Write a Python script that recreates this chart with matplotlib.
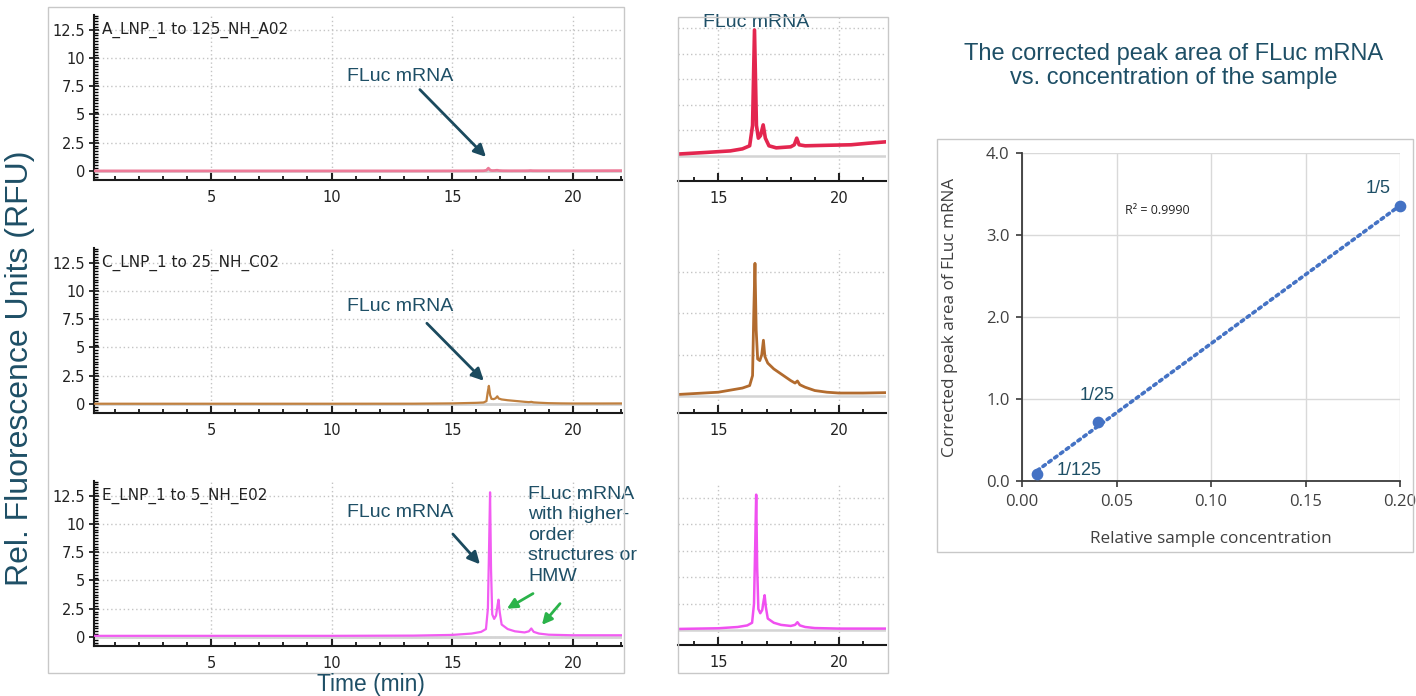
import numpy as np
import matplotlib
matplotlib.use("Agg")
import matplotlib.pyplot as plt
from matplotlib.patches import Rectangle

# electropherogram traces (time in min, signal in RFU)
time_a = [0.2, 3, 6, 9, 12, 13.4, 14.5, 15.5, 16.0, 16.3, 16.42, 16.5, 16.58, 16.66,
          16.75, 16.86, 16.95, 17.1, 17.4, 18.0, 18.15, 18.25, 18.35, 18.6, 19.5,
          20.5, 21.2, 22.0]
rfu_a = [0.005, 0.005, 0.005, 0.005, 0.005, 0.004, 0.007, 0.010, 0.014, 0.020, 0.06,
         0.247, 0.06, 0.035, 0.040, 0.061, 0.035, 0.020, 0.016, 0.018, 0.022, 0.035,
         0.022, 0.020, 0.021, 0.022, 0.025, 0.028]

time_c = [0.2, 5, 10, 13.4, 15.0, 16.0, 16.3, 16.42, 16.47, 16.52, 16.57, 16.63, 16.72,
          16.8, 16.87, 16.93, 17.05, 17.3, 17.6, 18.0, 18.18, 18.28, 18.38, 18.6, 19.0,
          19.5, 20.0, 21.0, 22.0]
rfu_c = [0.02, 0.02, 0.02, 0.024, 0.05, 0.10, 0.13, 0.25, 1.0, 1.6, 0.8, 0.45, 0.43,
         0.5, 0.675, 0.48, 0.40, 0.33, 0.27, 0.19, 0.16, 0.185, 0.14, 0.11, 0.07,
         0.05, 0.04, 0.04, 0.045]

time_e = [0.2, 5, 10, 13.4, 15.0, 15.8, 16.2, 16.4, 16.48, 16.53, 16.57, 16.61, 16.66,
          16.74, 16.82, 16.88, 16.92, 16.97, 17.05, 17.3, 17.6, 18.0, 18.18, 18.28,
          18.38, 18.6, 19.0, 20.0, 22.0]
rfu_e = [0.1, 0.1, 0.1, 0.12, 0.18, 0.3, 0.45, 0.7, 2.5, 8.0, 12.8, 6.0, 2.0, 1.6, 1.9,
         2.8, 3.3, 2.2, 1.1, 0.7, 0.5, 0.4, 0.5, 0.75, 0.45, 0.3, 0.2, 0.15, 0.15]

sample_names = ["A_LNP_1 to 125_NH_A02", "C_LNP_1 to 25_NH_C02", "E_LNP_1 to 5_NH_E02"]

# peak area vs dilution
conc = [1 / 125, 1 / 25, 1 / 5]
area = [0.08, 0.72, 3.35]
dilution_labels = ["1/125", "1/25", "1/5"]

W, H = 1416, 696
TEAL = "#1e4f66"
ARROW = "#1b4a5e"
GREEN = "#2bb34a"
GRID = "#c4c4c4"
SANS = ["Liberation Sans", "DejaVu Sans"]
OPEN = ["Open Sans", "DejaVu Sans"]

plt.rcParams["font.family"] = ["DejaVu Sans"]
fig = plt.figure(figsize=(W / 100, H / 100), dpi=100)


def rect(l, t, r, b):
    return [l / W, 1 - b / H, (r - l) / W, (b - t) / H]


def box(l, t, r, b):
    fig.add_artist(Rectangle((l / W, 1 - b / H), (r - l) / W, (b - t) / H,
                             transform=fig.transFigure, fill=False,
                             ec="#c8c8c8", lw=1.0))


def style_main(ax, name):
    ax.set_xlim(0.15, 22.04)
    ax.set_ylim(-0.8, 13.8)
    for s in ["top", "right"]:
        ax.spines[s].set_visible(False)
    for s in ["left", "bottom"]:
        ax.spines[s].set_linewidth(1.5)
        ax.spines[s].set_color("#1a1a1a")
    ax.set_xticks([5, 10, 15, 20])
    ax.set_xticks([m for m in range(1, 23) if m % 5], minor=True)
    ax.set_yticks([0, 2.5, 5, 7.5, 10, 12.5])
    ax.set_yticklabels(["0", "2.5", "5", "7.5", "10", "12.5"])
    ax.set_yticks(np.arange(-0.75, 13.8, 0.25), minor=True)
    ax.tick_params(axis="x", which="major", direction="in", length=6, width=1.5,
                   pad=7, labelsize=10.5, colors="#222222")
    ax.tick_params(axis="x", which="minor", direction="in", length=3, width=1.2)
    ax.tick_params(axis="y", which="major", direction="inout", length=7, width=1.3,
                   pad=3, labelsize=10.5, colors="#222222")
    ax.tick_params(axis="y", which="minor", direction="in", length=3, width=1)
    ax.grid(True, which="major", ls=(0, (1, 2)), color=GRID, lw=1)
    ax.set_axisbelow(True)
    ax.axhline(0, color="#d4d4d4", lw=2, zorder=1)
    ax.text(0.5, 12.5, name, ha="left", va="center", fontsize=11, color="#222222")


def style_mini(ax, ylim, ygrid):
    ax.set_xlim(13.33, 21.95)
    ax.set_ylim(*ylim)
    for s in ["top", "right", "left"]:
        ax.spines[s].set_visible(False)
    ax.spines["bottom"].set_linewidth(1.5)
    ax.spines["bottom"].set_color("#1a1a1a")
    ax.set_xticks([15, 20])
    ax.set_xticks([m for m in range(14, 22) if m % 5], minor=True)
    ax.set_yticks(ygrid)
    ax.tick_params(axis="y", left=False, labelleft=False)
    ax.tick_params(axis="x", which="major", direction="in", length=6, width=1.5,
                   pad=7, labelsize=10.5, colors="#222222")
    ax.tick_params(axis="x", which="minor", direction="in", length=3, width=1.2)
    ax.grid(True, which="major", ls=(0, (1, 2)), color=GRID, lw=1)
    ax.set_axisbelow(True)
    ax.axhline(0, color="#d4d4d4", lw=1.8, zorder=1)


def arrow(ax, tail, tip, color, lw=2.0, head=18):
    ax.annotate("", xy=tip, xytext=tail,
                arrowprops=dict(arrowstyle="-|>", color=color, lw=lw,
                                mutation_scale=head, shrinkA=0, shrinkB=0))


box(48, 7, 624, 673)
box(678, 17, 888, 673)
box(937, 139, 1413, 552)

# stacked full-range electropherograms
traces = [(time_a, rfu_a, "#ec7b98", 2.0),
          (time_c, rfu_c, "#c0803f", 1.6),
          (time_e, rfu_e, "#f25cf2", 1.6)]
tops = [15, 248, 481]
main_axes = []
for (t, y, col, lw), top, name in zip(traces, tops, sample_names):
    ax = fig.add_axes(rect(94, top, 622, top + 165))
    style_main(ax, name)
    ax.plot(t, y, color=col, lw=lw, zorder=3)
    main_axes.append(ax)

ax_a, ax_c, ax_e = main_axes
ax_a.text(12.84, 8.33, "FLuc mRNA", ha="center", va="center", fontsize=14,
          color=TEAL, family=SANS)
arrow(ax_a, (13.66, 7.2), (16.4, 1.24), ARROW)
ax_c.text(12.84, 8.66, "FLuc mRNA", ha="center", va="center", fontsize=14,
          color=TEAL, family=SANS)
arrow(ax_c, (13.95, 7.14), (16.31, 2.05), ARROW)
ax_e.text(12.84, 11.0, "FLuc mRNA", ha="center", va="center", fontsize=14,
          color=TEAL, family=SANS)
arrow(ax_e, (15.03, 9.1), (16.15, 6.43), ARROW)
ax_e.text(18.14, 13.4, "FLuc mRNA\nwith higher-\norder\nstructures or\nHMW",
          ha="left", va="top", fontsize=14, color=TEAL, family=SANS,
          linespacing=1.28)
arrow(ax_e, (18.35, 3.84), (17.27, 2.5), GREEN, lw=2.0, head=15)
arrow(ax_e, (19.47, 2.95), (18.72, 1.07), GREEN, lw=2.0, head=15)

fig.text(20 / W, 1 - 368 / H, "Rel. Fluorescence Units (RFU)", rotation=90,
         ha="center", va="center", fontsize=23, color=TEAL, family=SANS)
fig.text(371 / W, 1 - 685 / H, "Time (min)", ha="center", va="center",
         fontsize=16.4, color=TEAL, family=SANS)

# zoomed views around the mRNA peak
mini_a = fig.add_axes(rect(678, 17, 886, 181))
style_mini(mini_a, (-0.049, 0.2725), [0.05, 0.10, 0.15, 0.20, 0.25])
mini_a.plot(time_a, rfu_a, color="#e3264f", lw=2.6, zorder=3)
mini_a.text(0.375, 0.965, "FLuc mRNA", transform=mini_a.transAxes, ha="center",
            va="center", fontsize=14, color=TEAL, family=SANS)

mini_c = fig.add_axes(rect(678, 250, 886, 413))
style_mini(mini_c, (-0.2, 1.76), [0.5, 1.0, 1.5])
mini_c.plot(time_c, rfu_c, color="#b26b2e", lw=2.0, zorder=3)

mini_e = fig.add_axes(rect(678, 483, 886, 645))
style_mini(mini_e, (-1.4, 13.9), [2.5, 5, 7.5, 10, 12.5])
mini_e.plot(time_e, rfu_e, color="#f050f0", lw=1.8, zorder=3)

# linearity of corrected peak area
fig.text(1174 / W, 1 - 66 / H,
         "The corrected peak area of FLuc mRNA\nvs. concentration of the sample",
         ha="center", va="center", fontsize=17, color=TEAL, family=SANS,
         linespacing=1.14)

ax_r = fig.add_axes(rect(1022, 153, 1400, 481))
ax_r.set_xlim(0, 0.20)
ax_r.set_ylim(0, 4.0)
ax_r.set_xticks([0, 0.05, 0.10, 0.15, 0.20])
ax_r.set_yticks([0, 1, 2, 3, 4])
ax_r.xaxis.set_major_formatter(matplotlib.ticker.FormatStrFormatter("%.2f"))
ax_r.yaxis.set_major_formatter(matplotlib.ticker.FormatStrFormatter("%.1f"))
for s in ["top", "right"]:
    ax_r.spines[s].set_visible(False)
for s in ["left", "bottom"]:
    ax_r.spines[s].set_color("#3a3a3a")
    ax_r.spines[s].set_linewidth(1.3)
ax_r.tick_params(direction="out", length=4, width=1.2, color="#3a3a3a",
                 labelsize=12, labelcolor="#404040", pad=5)
for lab in ax_r.get_xticklabels() + ax_r.get_yticklabels():
    lab.set_family(OPEN)
ax_r.grid(True, color="#d9d9d9", lw=1.0)
ax_r.set_axisbelow(True)
ax_r.set_xlabel("Relative sample concentration", fontsize=12.3, color="#404040",
                family=OPEN)
ax_r.set_ylabel("Corrected peak area of FLuc mRNA", fontsize=12.3, color="#404040",
                family=OPEN)
ax_r.xaxis.set_label_coords(0.5, -0.153)
ax_r.yaxis.set_label_coords(-0.17, 0.5)

slope, intercept = np.polyfit(conc, area, 1)
fit_x = np.array([min(conc), max(conc)])
ax_r.plot(fit_x, slope * fit_x + intercept, color="#4472c4", lw=2.6,
          ls=(0, (0.8, 1.2)), dash_capstyle="round", zorder=3)
ax_r.scatter(conc, area, s=55, color="#4472c4", zorder=4, clip_on=False)

offsets = [((14, 3), "left"), ((0, 19), "center"), ((-16, 13), "center")]
for x, y, lab, (off, ha) in zip(conc, area, dilution_labels, offsets):
    ax_r.annotate(lab, (x, y), xytext=off, textcoords="offset points", ha=ha,
                  va="center", fontsize=13, color=TEAL, family=SANS)
ax_r.text(0.0545, 3.3, "R² = 0.9990", ha="left", va="center", fontsize=9,
          color="#222222", family=OPEN)

fig.savefig("out.png", dpi=100)
